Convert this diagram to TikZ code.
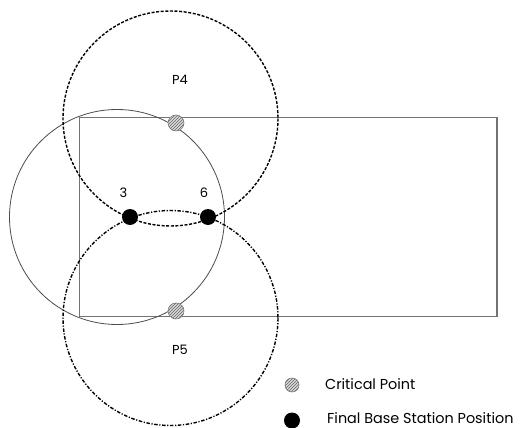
\documentclass[tikz,border=0pt]{standalone}
\usepackage{fontspec}
\setmainfont{Poppins}
\usetikzlibrary{patterns}
\begin{document}
\begin{tikzpicture}[x=1pt,y=-1pt,
  area/.style={draw=black!55,line width=1.2pt},
  rangecircle/.style={draw=black!70,line width=0.8pt},
  pfour/.style={draw=black,line width=1.4pt,dash pattern=on 3pt off 1.6pt},
  pfive/.style={draw=black,line width=1.4pt,dash pattern=on 3.5pt off 1.6pt on 1.2pt off 1.6pt},
  critpt/.style={circle,draw=black!50,line width=0.6pt,fill=black!15,minimum size=16pt,inner sep=0pt,
    postaction={pattern=north east lines,pattern color=black!60}},
  bsdot/.style={circle,fill=black,minimum size=16pt,inner sep=0pt},
  lab/.style={font=\fontsize{13}{15}\selectfont,inner sep=0pt},
  legtext/.style={font=\fontsize{14.4}{17}\selectfont,inner sep=0pt,anchor=west}]
\useasboundingbox (0,0) rectangle (523,428);
% service area
\draw[area] (79.5,117.5) rectangle (497,316.5);
% solid range circle
\coordinate (cs) at (117,217);
\draw[rangecircle] (cs) circle (107.5);
% P4 / P5 circles
\coordinate (c4) at (170.5,118.5);
\coordinate (c5) at (170.5,318);
\draw[pfour] (c4) circle (107.5);
\draw[pfive] (c5) circle (107.5);
% critical points
\node[critpt] (cp4) at (176,123) {};
\node[critpt] (cp5) at (176,311) {};
% base stations
\node[bsdot] (b3) at (130,217) {};
\node[bsdot] (b6) at (208,217) {};
% labels
\node[lab] (l3) at (123.5,193) {3};
\node[lab] (l6) at (204,193) {6};
\node[lab] (lp4) at (180,80) {P4};
\node[lab] (lp5) at (180,350) {P5};
% legend
\node[critpt,minimum size=14pt] (legcp) at (292,385) {};
\node[legtext] (legcpt) at (325,384) {Critical Point};
\node[bsdot] (legbs) at (292,420.5) {};
\node[legtext] (legbst) at (327,418) {Final Base Station Position};
\end{tikzpicture}
\end{document}
